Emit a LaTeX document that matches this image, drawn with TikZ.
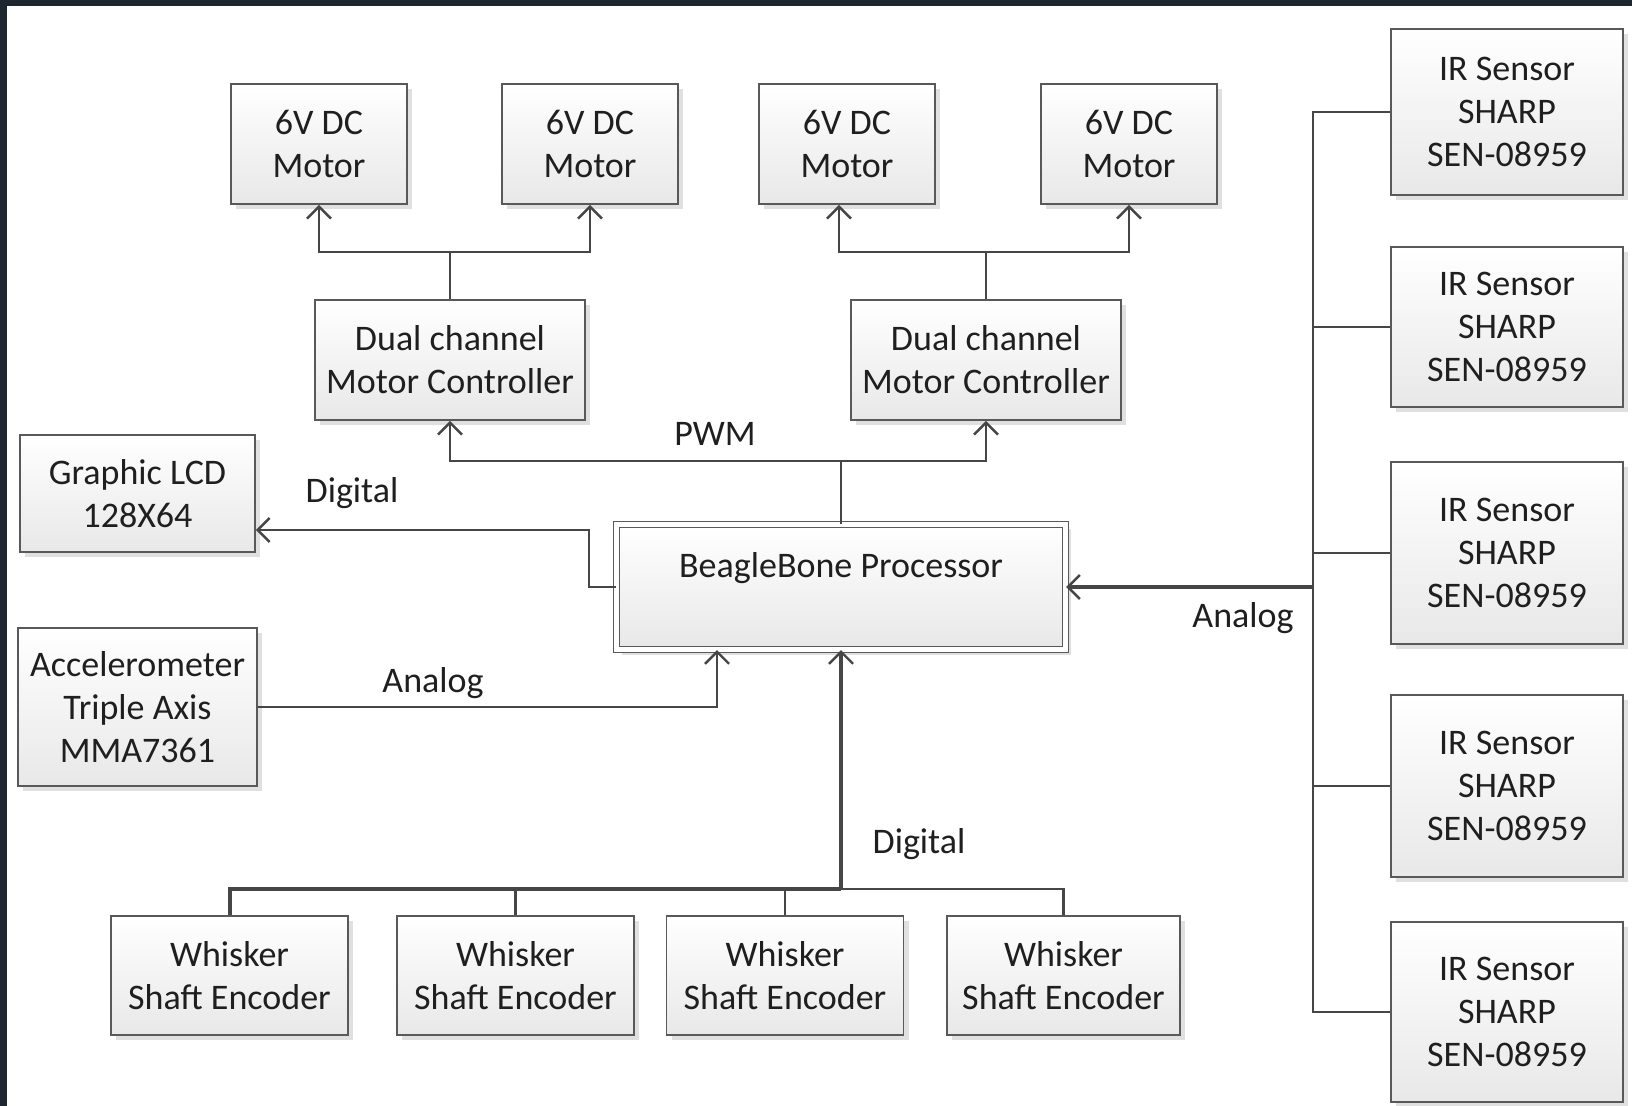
\documentclass[tikz,border=0pt]{standalone}
\usepackage{fontspec}
\setmainfont{Carlito}
\usetikzlibrary{arrows.meta,shadows}
\definecolor{frameDark}{HTML}{1E2630}
\definecolor{lineGray}{RGB}{70,70,70}

\tikzset{
  block/.style={draw=black!65, line width=0.9pt, top color=white, bottom color=black!9,
    align=center, inner sep=0pt, text=black!88,
    drop shadow={shadow xshift=2.5pt, shadow yshift=-2.5pt, fill=black!12, opacity=1}},
  wire/.style={draw=lineGray, line width=1.2pt},
  bigwire/.style={draw=lineGray, line width=2pt},
  arr/.style={-{Straight Barb[length=6pt,width=12pt,line width=1.2pt]}},
  tag/.style={text=black!88, inner sep=0pt}
}

\begin{document}
\begin{tikzpicture}[x=0.5pt, y=-0.5pt, font=\fontsize{18pt}{21.5pt}\selectfont]
        % frame
        \fill[frameDark] (0,0) rectangle (1632,1106);
        \fill[white] (7,6) rectangle (1632,1106);
        \useasboundingbox (0,0) rectangle (1632,1106);

        % motors and controllers
        \node[block, minimum width=88pt, minimum height=60pt] (m1) at (319,144) {6V DC\\Motor};
        \node[block, minimum width=88pt, minimum height=60pt] (m2) at (590,144) {6V DC\\Motor};
        \node[block, minimum width=88pt, minimum height=60pt] (m3) at (847,144) {6V DC\\Motor};
        \node[block, minimum width=88pt, minimum height=60pt] (m4) at (1129,144) {6V DC\\Motor};
        \node[block, minimum width=135pt, minimum height=60pt] (c1) at (450,360) {Dual channel\\Motor Controller};
        \node[block, minimum width=135pt, minimum height=60pt] (c2) at (986,360) {Dual channel\\Motor Controller};

        % processor
        \node[block, double=white, double distance=2.5pt, line width=0.6pt,
              minimum width=224.5pt, minimum height=62.5pt] (proc) at (841,587) {BeagleBone Processor\\[-6pt]\strut};

        % left side
        \node[block, minimum width=117.5pt, minimum height=58.5pt] (lcd) at (137.5,493.5) {Graphic LCD\\128X64};
        \node[block, minimum width=119.5pt, minimum height=79pt] (acc) at (137.5,707) {Accelerometer\\Triple Axis\\MMA7361};

        % encoders
        \node[block, minimum width=118.5pt, minimum height=59.5pt] (e1) at (229.5,975.5) {Whisker\\Shaft Encoder};
        \node[block, minimum width=118.5pt, minimum height=59.5pt] (e2) at (515.5,975.5) {Whisker\\Shaft Encoder};
        \node[block, minimum width=118.5pt, minimum height=59.5pt] (e3) at (785,975.5) {Whisker\\Shaft Encoder};
        \node[block, minimum width=116.5pt, minimum height=59.5pt] (e4) at (1063.5,975.5) {Whisker\\Shaft Encoder};

        % IR sensors
        \node[block, minimum width=116pt, minimum height=83pt] (ir1) at (1507,112) {IR Sensor\\SHARP\\SEN-08959};
        \node[block, minimum width=116pt, minimum height=80pt] (ir2) at (1507,327) {IR Sensor\\SHARP\\SEN-08959};
        \node[block, minimum width=116pt, minimum height=91pt] (ir3) at (1507,553) {IR Sensor\\SHARP\\SEN-08959};
        \node[block, minimum width=116pt, minimum height=91pt] (ir4) at (1507,786) {IR Sensor\\SHARP\\SEN-08959};
        \node[block, minimum width=116pt, minimum height=90pt] (ir5) at (1507,1012) {IR Sensor\\SHARP\\SEN-08959};

        % controllers to motors
        \draw[wire] (c1.north) -- ++(0,-47) coordinate (j1);
        \draw[wire, arr] (j1) -| (m1.south);
        \draw[wire, arr] (j1) -| (m2.south);
        \draw[wire] (c2.north) -- ++(0,-47) coordinate (j2);
        \draw[wire, arr] (j2) -| ([xshift=-4pt]m3.south);
        \draw[wire, arr] (j2) -| (m4.south);

        % PWM
        \coordinate (pwm) at (841,461);
        \draw[wire] (proc.north) -- (pwm);
        \draw[wire, arr] (pwm) -| (c1.south);
        \draw[wire, arr] (pwm) -| (c2.south);
        \node[tag] (pwmtag) at (715,434) {PWM};

        % LCD and accelerometer
        \draw[wire, arr] (proc.west) -- ++(-27,0) |- ([yshift=-18.25pt]lcd.east);
        \node[tag] (lcdtag) at (352,493) {Digital};
        \draw[wire, arr] (acc.east) -| ([xshift=-62pt]proc.south);
        \node[tag] (acctag) at (433,683) {Analog};

        % encoders
        \coordinate (dig) at (841,889);
        \draw[bigwire, arr] (dig) -- (proc.south);
        \draw[bigwire] (e1.north) |- (dig);
        \draw[wire] (e2.north) -- (e2.north |- dig);
        \draw[wire] (e3.north) |- (dig);
        \draw[wire] (e4.north) |- (dig);
        \node[tag] (digtag) at (919,844) {Digital};

        % IR sensors
        \coordinate (irbus) at (1313,587);
        \draw[bigwire, arr] (irbus) -- (proc.east);
        \foreach \s in {ir1,ir2,ir3,ir4,ir5}
          \draw[wire] (\s.west) -| (irbus);
        \node[tag] (irtag) at (1243,618) {Analog};
      \end{tikzpicture}
\end{document}
